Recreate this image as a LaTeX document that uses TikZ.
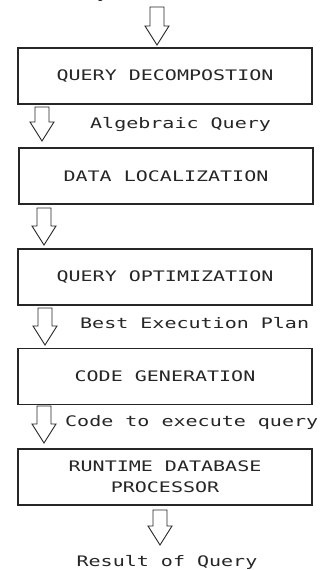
\documentclass[tikz,border=0pt]{standalone}
\usepackage{fontspec}
\setmainfont{DejaVu Sans Mono}[FakeStretch=1.38]
\usetikzlibrary{calc}
\definecolor{ink}{HTML}{262626}
\newcommand{\blockarrow}[2]{%
  \draw[arrowline] let \p1=(#1), \p2=(#2) in
    (\x1-7pt,\y1) -- (\x1+7pt,\y1) -- (\x1+7pt,\y2+19pt) -- (\x1+12pt,\y2+19pt)
    -- (\x1,\y2) -- (\x1-12pt,\y2+19pt) -- (\x1-7pt,\y2+19pt) -- cycle;}
\begin{document}
\begin{tikzpicture}[x=1pt,y=-1pt,
  txt/.style={text=ink,font=\fontsize{14.5}{21}\selectfont,inner sep=0pt},
  box/.style={txt,draw=ink,line width=1.1pt,minimum width=294pt,minimum height=56pt,align=center},
  lbl/.style={txt,anchor=west},
  arrowline/.style={draw=ink,line width=0.9pt,fill=white,line join=miter}]
\useasboundingbox[fill=white] (0,0) rectangle (320,570);
\begin{scope}
\clip (0,0) rectangle (320,570);
\node[lbl,anchor=base west] (top) at (-60,-1.5) {Calculus Query on Distributed Relations};
\end{scope}
\node[box] (b1) at (165,76) {QUERY DECOMPOSTION};
\node[box] (b2) at (166,176) {DATA LOCALIZATION};
\node[box] (b3) at (165,277) {QUERY OPTIMIZATION};
\node[box] (b4) at (165,376.5) {CODE GENERATION};
\node[box] (b5) at (165,477) {RUNTIME DATABASE\\PROCESSOR};
\node[lbl] (l1) at (90,125) {Algebraic Query};
\node[lbl] (l2) at (80,323) {Best Execution Plan};
\node[lbl] (l3) at (65,423) {Code to execute query};
\node[txt] (l4) at (167,562) {Result of Query};
\coordinate (a1s) at (157,7);   \coordinate (a1e) at (157,45);
\coordinate (a2s) at (42,107);  \coordinate (a2e) at (42,141);
\coordinate (a3s) at (44,208);  \coordinate (a3e) at (44,245);
\coordinate (a4s) at (45,308);  \coordinate (a4e) at (45,345);
\coordinate (a5s) at (44,406);  \coordinate (a5e) at (44,443);
\coordinate (a6s) at (160,510); \coordinate (a6e) at (160,545);
\blockarrow{a1s}{a1e}
\blockarrow{a2s}{a2e}
\blockarrow{a3s}{a3e}
\blockarrow{a4s}{a4e}
\blockarrow{a5s}{a5e}
\blockarrow{a6s}{a6e}
\end{tikzpicture}
\end{document}
